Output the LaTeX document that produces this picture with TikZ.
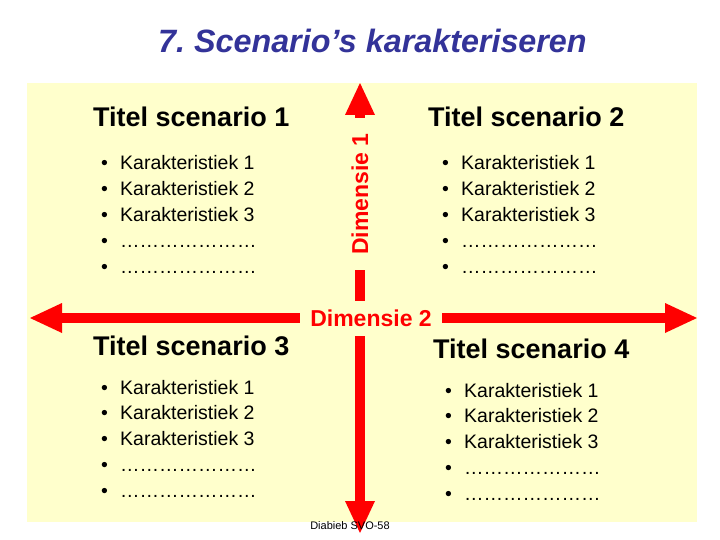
\documentclass[tikz,border=0pt]{standalone}
\usepackage{fontspec}
\setmainfont{Liberation Sans}
\usetikzlibrary{arrows.meta}
\definecolor{bgyellow}{RGB}{255,255,204}
\definecolor{titleblue}{RGB}{51,51,153}
\definecolor{arrowred}{RGB}{255,0,0}
\newcommand\dotsrow{…………………}
\frenchspacing
\begin{document}
\begin{tikzpicture}[x=1pt,y=-1pt,
  axis/.style={draw=arrowred, line width=10.5pt,
    {Triangle[length=32pt,width=30pt,line width=0pt]}-{Triangle[length=32pt,width=30pt,line width=0pt]}},
  dimlabel/.style={fill=bgyellow, text=arrowred, inner sep=0pt,
    font=\fontsize{23}{27}\selectfont\bfseries},
  scentitle/.style={anchor=base west, inner sep=0pt, font=\fontsize{27}{32}\selectfont\bfseries},
  item/.style={anchor=base west, inner sep=0pt, font=\fontsize{19.5}{24}\selectfont},
  mainttl/.style={anchor=base west, inner sep=0pt, text=titleblue,
    font=\fontsize{32.3}{38}\selectfont\bfseries\itshape},
  foot/.style={inner sep=0pt, font=\fontsize{11}{13}\selectfont}
]
\useasboundingbox (0,0) rectangle (720,540);
\fill[white] (0,0) rectangle (720,540);
\fill[bgyellow] (27,83) rectangle (697,522);

\node[mainttl] (title) at (158,53) {7. Scenario’s karakteriseren};

\coordinate (L) at (30,318);
\coordinate (R) at (697,318);
\coordinate (T) at (360,83);
\coordinate (B) at (360,533);
\draw[axis] (L) -- (R);
\draw[axis] (T) -- (B);

\node[dimlabel, minimum width=142pt, minimum height=35pt] (d2) at (371,318) {Dimensie 2};
\node[dimlabel, rotate=90, minimum width=152pt, minimum height=24pt] (d1) at (360,194) {Dimensie 1};

\node[scentitle] (t1) at (93,127) {Titel scenario 1};
\node[scentitle] (t2) at (428,127) {Titel scenario 2};
\node[scentitle] (t3) at (93,355) {Titel scenario 3};
\node[scentitle] (t4) at (433,358) {Titel scenario 4};

\foreach \lx/\ly/\ln in {101/170/a, 442/170/b, 101/394/c, 445/397/d} {
  \foreach \t [count=\i] in {Karakteristiek 1, Karakteristiek 2, Karakteristiek 3, \dotsrow, \dotsrow} {
    \node[item] (\ln\i) at (\lx, {\ly+25.8*(\i-1)}) {\makebox[19pt][l]{•}\t};
  }
}

\node[foot] (ft) at (350,526) {Diabieb SVO-58};
\end{tikzpicture}
\end{document}
